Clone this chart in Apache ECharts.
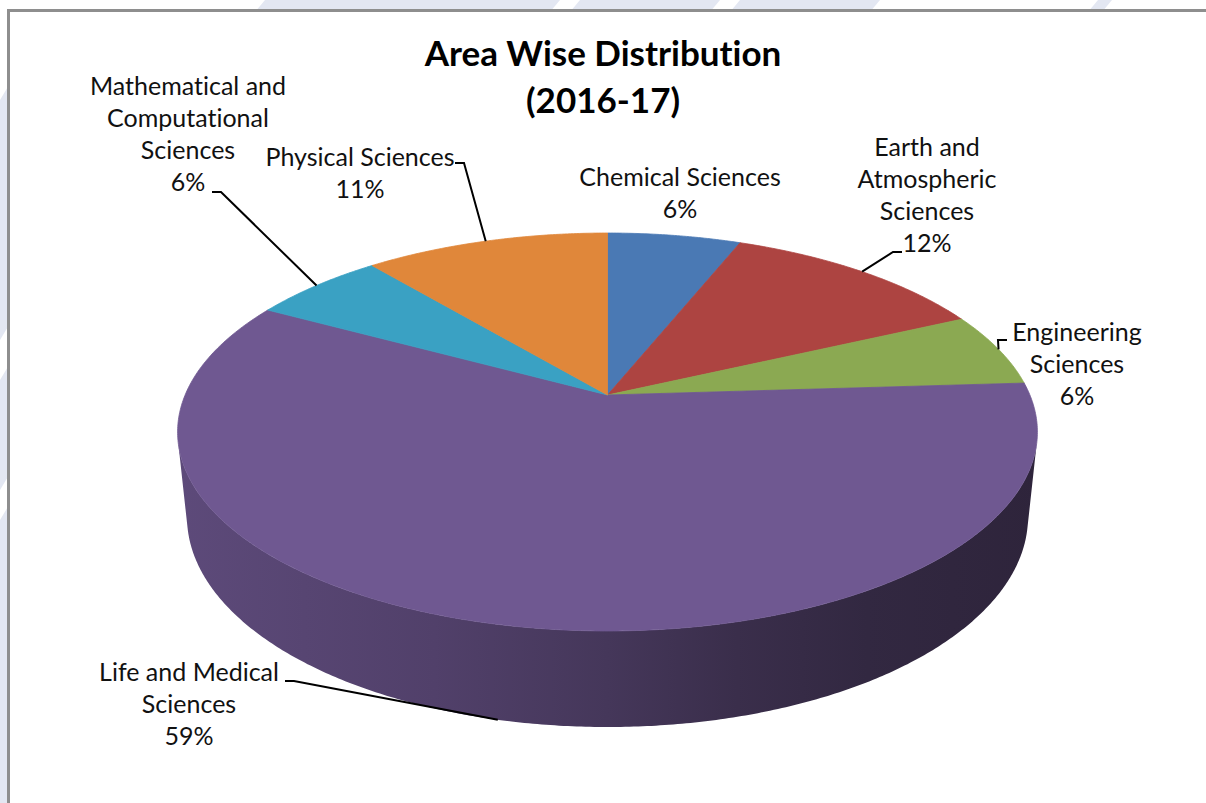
<!DOCTYPE html>
<html>
<head>
<meta charset="utf-8">
<script src="https://cdn.jsdelivr.net/npm/echarts@6/dist/echarts.min.js"></script>
<style>
  html, body { margin: 0; padding: 0; background: #ffffff; }
  #chart { width: 1206px; height: 803px; }
  #chart text { font-variant-ligatures: none; font-feature-settings: "liga" 0, "clig" 0; }
</style>
</head>
<body>
<div id="chart"></div>
<script>
// Research areas and their share of the total (per cent)
const categories = [
  'Chemical Sciences',
  'Earth and\nAtmospheric\nSciences',
  'Engineering\nSciences',
  'Life and Medical\nSciences',
  'Mathematical and\nComputational\nSciences',
  'Physical Sciences'
];
const shares = [6, 12, 6, 59, 6, 11];

// Slice palette
const palette = ['#4a79b4', '#ad4441', '#8ba952', '#6f5891', '#3aa1c3', '#e0873a'];

// Where each label block sits and where its leader line begins (null = no leader)
const labelLayout = [
  { x: 680, y: 191.5, leader: null },
  { x: 927, y: 193.5, leader: [902, 252] },
  { x: 1077, y: 363, leader: [1007, 340] },
  { x: 189, y: 702.5, leader: [285, 681] },
  { x: 188, y: 132.5, leader: [212, 192] },
  { x: 360, y: 171.5, leader: [455, 163] }
];

// Camera for the tilted, perspective 3D pie
const view = {
  cx: 607.5, cy: 395,      // screen position of the pie centre (top face)
  R: 0.2088,               // radius relative to camera distance
  f: 2023,                 // focal length in pixels
  depth: 0.04737,          // pie thickness relative to camera distance
  tilt: 27.05              // elevation angle in degrees
};
const sinA = Math.sin(view.tilt * Math.PI / 180);
const cosA = Math.cos(view.tilt * Math.PI / 180);

// theta: degrees clockwise from the far side; level: 0 = top face, -depth = bottom
function project(theta, level, radius) {
  const r = radius === undefined ? view.R : radius;
  const t = theta * Math.PI / 180;
  const X = r * Math.sin(t);
  const Z = r * Math.cos(t);
  const up = level * cosA + Z * sinA;
  const d = 1 + Z * cosA - level * sinA;
  return [view.cx + view.f * X / d, view.cy - view.f * up / d];
}

function arc(a0, a1, level) {
  const pts = [];
  const n = Math.max(2, Math.ceil(Math.abs(a1 - a0) / 0.5));
  for (let k = 0; k <= n; k++) pts.push(project(a0 + (a1 - a0) * k / n, level));
  return pts;
}

function shade(hex, k) {
  const n = parseInt(hex.slice(1), 16);
  const r = Math.round(((n >> 16) & 255) * k);
  const g = Math.round(((n >> 8) & 255) * k);
  const b = Math.round((n & 255) * k);
  return 'rgb(' + r + ',' + g + ',' + b + ')';
}

// Outer wall faces the camera only in this angular window
const wallLimit = Math.acos(-view.R / cosA) * 180 / Math.PI;
const wallFrom = wallLimit, wallTo = 360 - wallLimit;

const total = shares.reduce((a, b) => a + b, 0);
const offsets = [];
shares.reduce((acc, v) => { offsets.push(acc); return acc + v; }, 0);

const leftEdge = project(270, 0)[0] - 10;
const rightEdge = project(90, 0)[0] + 10;

function renderSlice(params, api) {
  const i = params.dataIndex;
  const value = api.value(0);
  const a0 = offsets[i] / total * 360;
  const a1 = (offsets[i] + value) / total * 360;
  const color = palette[i];
  const children = [];

  // visible part of the outer wall
  const w0 = Math.max(a0, wallFrom), w1 = Math.min(a1, wallTo);
  if (w1 > w0) {
    const pts = arc(w0, w1, 0).concat(arc(w1, w0, -view.depth));
    children.push({
      type: 'polygon', z2: 1,
      shape: { points: pts },
      style: {
        fill: {
          type: 'linear', global: true,
          x: leftEdge, y: 0, x2: rightEdge, y2: 0,
          colorStops: [
            { offset: 0, color: shade(color, 0.84) },
            { offset: 0.3, color: shade(color, 0.73) },
            { offset: 0.5, color: shade(color, 0.62) },
            { offset: 0.65, color: shade(color, 0.52) },
            { offset: 0.8, color: shade(color, 0.45) },
            { offset: 1, color: shade(color, 0.41) }
          ]
        },
        stroke: null
      }
    });
  }

  // top face: centre point followed by the rim arc
  const top = [project(0, 0, 0)].concat(arc(a0, a1, 0));
  children.push({
    type: 'polygon', z2: 5,
    shape: { points: top },
    style: { fill: color, stroke: color, lineWidth: 0.8 }
  });

  // label and leader line
  const lay = labelLayout[i];
  const pct = Math.round(value / total * 100) + '%';
  children.push({
    type: 'text', z2: 9,
    x: lay.x, y: lay.y,
    style: {
      text: categories[i] + '\n' + pct,
      fill: '#111111',
      fontFamily: 'Lato',
      fontSize: 25,
      lineHeight: 32,
      align: 'center',
      verticalAlign: 'middle'
    }
  });
  if (lay.leader) {
    const mid = (a0 + a1) / 2;
    const onWall = mid > wallFrom && mid < wallTo;
    const tip = project(mid, onWall ? -view.depth : 0);
    const s = lay.leader;
    const dir = tip[0] >= s[0] ? 1 : -1;
    children.push({
      type: 'polyline', z2: 8,
      shape: { points: [s, [s[0] + dir * 9, s[1]], tip] },
      style: { stroke: '#000000', lineWidth: 2, fill: null }
    });
  }

  return { type: 'group', children: children };
}

// Light streaked backdrop around the framed slide area
const streaks = [
  [[265, 0], [560, 0], [550, 12], [255, 12]],
  [[580, 0], [720, 0], [710, 12], [570, 12]],
  [[740, 0], [880, 0], [870, 12], [730, 12]],
  [[1098, 0], [1112, 0], [1102, 12], [1088, 12]],
  [[0, 100], [12, 80], [12, 320], [0, 340]],
  [[0, 380], [12, 360], [12, 470], [0, 490]],
  [[0, 520], [12, 500], [12, 803], [0, 803]]
];

const chart = echarts.init(document.getElementById('chart'), null, { renderer: 'svg' });
chart.setOption({
  animation: false,
  backgroundColor: '#ffffff',
  title: {
    text: 'Area Wise Distribution\n(2016-17)',
    left: 'center',
    top: 28,
    padding: 0,
    textStyle: {
      fontFamily: 'Lato',
      fontWeight: 'bold',
      fontSize: 35,
      lineHeight: 47,
      color: '#000000'
    }
  },
  graphic: {
    elements: streaks.map(p => ({
      type: 'polygon', z: -3, silent: true,
      shape: { points: p },
      style: { fill: '#e3e7f2' }
    })).concat([{
      type: 'rect', z: -2, silent: true,
      shape: { x: 8.5, y: 10.5, width: 1300, height: 900 },
      style: { fill: '#ffffff', stroke: '#8e8e8e', lineWidth: 3 }
    }])
  },
  series: [{
    type: 'custom',
    coordinateSystem: 'none',
    silent: true,
    data: shares.map((v, i) => ({ name: categories[i], value: v })),
    renderItem: renderSlice
  }]
});
</script>
</body>
</html>
